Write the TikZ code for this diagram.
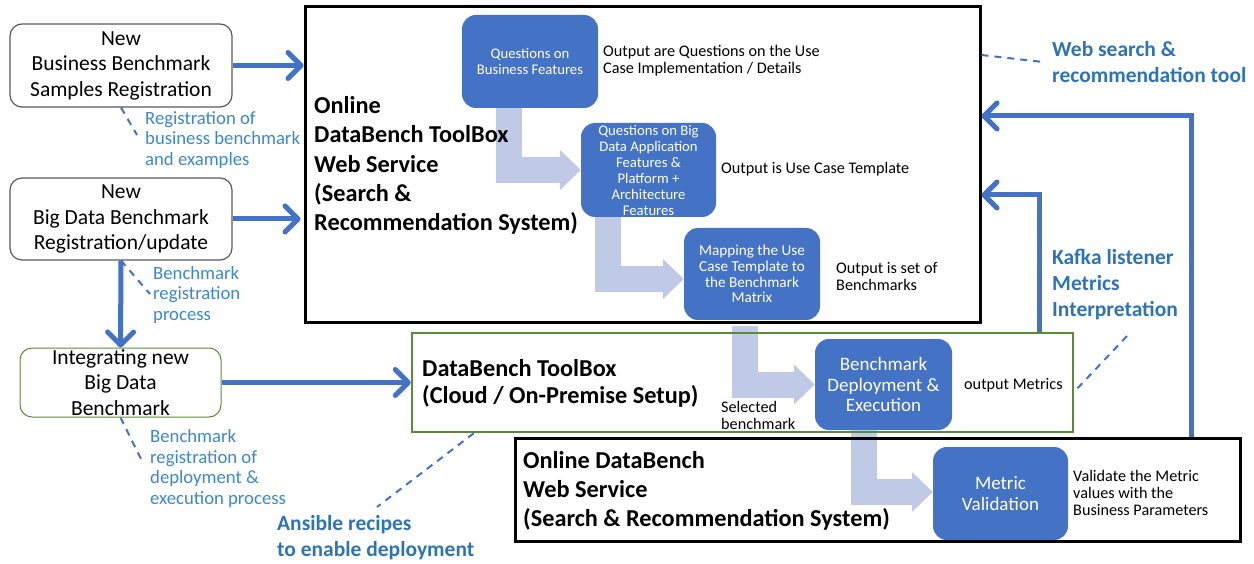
\documentclass[tikz,border=0pt]{standalone}
\usepackage{fontspec}
\setmainfont{Carlito}
\usetikzlibrary{arrows.meta}
\definecolor{boxblue}{HTML}{4472C4}
\definecolor{flowgray}{HTML}{C0C9E5}
\definecolor{notetext}{HTML}{3C87CF}
\definecolor{notebold}{HTML}{2E74B5}
\definecolor{framegreen}{HTML}{5A8A3A}
\definecolor{boxgray}{HTML}{595959}
\newcommand\fsz[2]{\fontsize{#1}{#2}\selectfont}

\begin{document}
\begin{tikzpicture}[x=1pt,y=-1pt,
  regbox/.style={draw=boxgray, line width=1.2pt, rounded corners=12pt, align=center,
    inner sep=0pt, font=\fsz{21.5}{25.5}},
  frame/.style={draw=black, line width=3pt, inner sep=0pt},
  greenframe/.style={draw=framegreen, line width=2.5pt, inner sep=0pt},
  title/.style={anchor=west, align=left, inner sep=0pt, font=\bfseries\fsz{24.3}{29.3}},
  stepbox/.style={fill=boxblue, rounded corners=14pt, text=white, align=center, inner sep=0pt},
  smallstep/.style={stepbox, font=\fsz{14.7}{16}},
  bigstep/.style={stepbox, font=\fsz{19}{20.5}},
  flow/.style={draw=flowgray, line width=26pt, line join=miter,
    -{Triangle[length=21pt,width=39pt]}},
  conn/.style={draw=boxblue, line width=5pt,
    -{Straight Barb[length=13pt,width=26pt,round]}},
  callout/.style={draw=boxblue, line width=2pt, dash pattern=on 7pt off 6pt},
  outtext/.style={anchor=west, align=left, inner sep=0pt, font=\fsz{16.2}{17}},
  note/.style={anchor=west, align=left, inner sep=0pt, text=notetext, font=\fsz{18.7}{20.5}},
  boldnote/.style={anchor=west, align=left, inner sep=0pt, text=notebold, font=\bfseries\fsz{21.5}{26}}
]
\useasboundingbox (0,0) rectangle (1254,564);

% registration boxes on the left
\node[regbox, minimum width=222, minimum height=83] (bizreg) at (121,65.5)
  {New\\Business Benchmark\\Samples Registration};
\node[regbox, minimum width=222, minimum height=82] (bdreg) at (121,219)
  {New\\Big Data Benchmark\\Registration/update};
\node[regbox, draw=framegreen, line width=1pt, minimum width=201, minimum height=69] (integ) at (120.5,382.5)
  {Integrating new\\Big Data\\Benchmark};

% process steps
\node[smallstep, minimum width=136, minimum height=93] (q1) at (530,61.5)
  {Questions on\\Business Features};
\node[smallstep, minimum width=135, minimum height=94] (q2) at (648.5,170)
  {Questions on Big\\Data Application\\Features \&\\Platform +\\Architecture\\Features};
\node[smallstep, font=\fsz{15.2}{15.7}, minimum width=136, minimum height=92] (map) at (752,274)
  {Mapping the Use\\Case Template to\\the Benchmark\\Matrix};
\node[bigstep, minimum width=137, minimum height=91] (deploy) at (883.5,384.5)
  {Benchmark\\Deployment \&\\Execution};
\node[bigstep, minimum width=135, minimum height=93] (metric) at (1000.5,493.5)
  {Metric\\Validation};

% flow between the steps
\draw[flow] ([xshift=-21.5]q1.south) |- (q2.west);
\draw[flow] ([xshift=-41]q2.south) |- ([yshift=-5]map.west);
\draw[flow] ([xshift=-7.5,yshift=-6]map.south) |- (deploy.west);
\draw[flow] ([xshift=-19.5]deploy.south) |- ([yshift=1.5]metric.west);

% service frames
\node[frame, minimum width=675, minimum height=316] (online) at (642.5,165) {};
\node[greenframe, minimum width=661, minimum height=99] (toolbox) at (742.5,382.5) {};
\node[frame, minimum width=725, minimum height=103] (bottombox) at (877.5,489.5) {};

\node[title] (onlinetitle) at (314,165.5)
  {Online\\DataBench ToolBox\\Web Service\\(Search \&\\Recommendation System)};
\node[title, font=\bfseries\fsz{24.3}{27}] (toolboxtitle) at (422,383.5)
  {DataBench ToolBox\\(Cloud / On-Premise Setup)};
\node[title] (bottomtitle) at (523,491)
  {Online DataBench\\Web Service\\(Search \& Recommendation System)};

% step outputs
\node[outtext] (out1) at (603,60.5) {Output are Questions on the Use\\Case Implementation / Details};
\node[outtext] (out2) at (721,169) {Output is Use Case Template};
\node[outtext] (out3) at (836,276.5) {Output is set of\\Benchmarks};
\node[outtext] (out4) at (964,385) {output Metrics};
\node[outtext] (sel) at (721,415.5) {Selected\\benchmark};
\node[outtext] (valid) at (1073,493) {Validate the Metric\\values with the\\Business Parameters};

% connections
\draw[conn] (bizreg.east) -- (bizreg.east -| online.west);
\draw[conn] (bdreg.east) -- ([xshift=-3]bdreg.east -| online.west);
\draw[conn] (bdreg.south) -- (integ.north);
\draw[conn] (integ.east) -- (integ.east -| toolbox.west);
\draw[conn] ([xshift=-50]bottombox.north east) |- ([yshift=49]online.east);
\draw[conn] ([xshift=-35]toolbox.north east) |- ([yshift=-30]online.east);

% annotations
\node[note] (biznote) at (145,140) {Registration of\\business benchmark\\and examples};
\node[note] (procnote) at (153,295) {Benchmark\\registration\\process};
\node[note] (deploynote) at (150,468.5) {Benchmark\\registration of\\deployment \&\\execution process};
\node[boldnote] (webnote) at (1052,62) {Web search \&\\recommendation tool};
\node[boldnote] (kafkanote) at (1052,285) {Kafka listener\\Metrics\\Interpretation};
\node[boldnote] (ansnote) at (277,538) {Ansible recipes\\to enable deployment};

\coordinate (bizend) at (137,135);
\coordinate (procend) at (150,294);
\coordinate (deployend) at (143,463);
\coordinate (ansend) at (377,507);
\coordinate (webend) at (1043,62);
\coordinate (kafkastart) at (1127,336);
\coordinate (kafkaend) at (1074,392);

\draw[callout] (bizreg.south) -- (bizend);
\draw[callout] (bdreg.south) -- (procend);
\draw[callout] (integ.south) -- (deployend);
\draw[callout] ([xshift=63]toolbox.south west) -- (ansend);
\draw[callout] ([yshift=110]online.east) -- (webend);
\draw[callout] (kafkastart) -- (kafkaend);
\end{tikzpicture}
\end{document}
